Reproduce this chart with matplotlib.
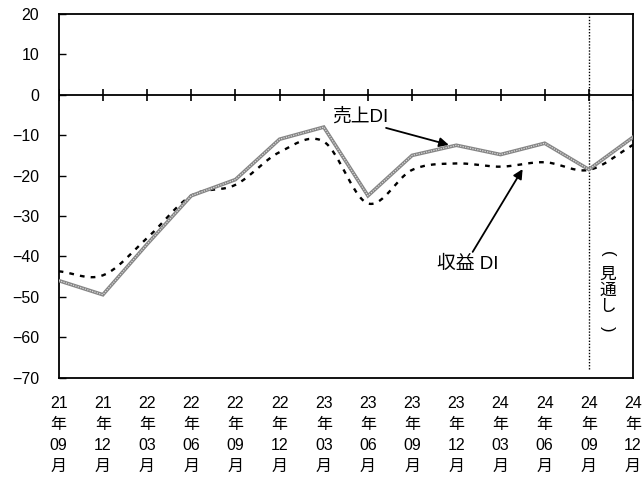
import numpy as np
import matplotlib
matplotlib.use("Agg")
import matplotlib.pyplot as plt

plt.rcParams['font.family'] = ['Liberation Sans', 'Noto Sans CJK JP', 'DejaVu Sans']

# 調査時点（年・月）
years = ["21", "21", "22", "22", "22", "22", "23", "23", "23", "23", "24", "24", "24", "24"]
months = ["09", "12", "03", "06", "09", "12", "03", "06", "09", "12", "03", "06", "09", "12"]

# 売上DI・収益DI
sales_di = [-46, -49.5, -37, -25, -21, -11, -8, -25, -15, -12.5, -14.8, -12, -18.5, -10.5]
profit_di = [-43.7, -44.7, -35.5, -25, -22.3, -14.2, -11.6, -26.9, -18.6, -17, -17.8, -16.7, -18.6, -12.4]

forecast_index = 12  # 24年09月以降は見通し

yticks = [20, 10, 0, -10, -20, -30, -40, -50, -60, -70]


def smooth_curve(y, steps=30):
    """Catmull-Rom spline through the points (Excel-style smoothed line)."""
    y = np.asarray(y, dtype=float)
    x = np.arange(len(y), dtype=float)
    px = np.concatenate([[2 * x[0] - x[1]], x, [2 * x[-1] - x[-2]]])
    py = np.concatenate([[2 * y[0] - y[1]], y, [2 * y[-1] - y[-2]]])
    xs, ys = [], []
    t = np.linspace(0, 1, steps, endpoint=False)

    def cr(a0, a1, a2, a3):
        return 0.5 * ((2 * a1) + (-a0 + a2) * t + (2 * a0 - 5 * a1 + 4 * a2 - a3) * t ** 2
                      + (-a0 + 3 * a1 - 3 * a2 + a3) * t ** 3)

    for i in range(1, len(px) - 2):
        xs.append(cr(px[i - 1], px[i], px[i + 1], px[i + 2]))
        ys.append(cr(py[i - 1], py[i], py[i + 1], py[i + 2]))
    xs.append([x[-1]])
    ys.append([y[-1]])
    return np.concatenate(xs), np.concatenate(ys)


fig = plt.figure(figsize=(6.44, 4.83), dpi=100)
ax = fig.add_axes([0.0911, 0.2184, 0.983 - 0.0911, 0.971 - 0.2184])

x = np.arange(len(sales_di))

# 収益DI（点線・スムージング）
sx, sy = smooth_curve(profit_di)
ax.plot(sx, sy, color="black", lw=1.7, linestyle=(0, (2.0, 2.6)), zorder=3)

# 売上DI（灰色の二重線）
ax.plot(x, sales_di, color="#858585", lw=2.6, solid_joinstyle="miter", zorder=4)
ax.plot(x, sales_di, color="#dcdcdc", lw=0.9, linestyle=(0, (1, 1)), zorder=5)

# 0 の横軸と目盛り
ax.axhline(0, color="black", lw=1.3, zorder=2)
ax.vlines(x, -1.5, 1.5, color="black", lw=1.2, zorder=2)

# 見通しの区切り線と縦書きラベル
ax.vlines(forecast_index, -68, 20, color="black", lw=1.0, linestyle=(0, (1, 1.2)), zorder=2)
tx = 12.43
ax.text(tx, -39.3, "(", rotation=-90, ha="center", va="center", fontsize=12)
ax.text(tx, -48.4, "見\n通\nし", ha="center", va="center", fontsize=12,
        linespacing=0.95, family="Noto Sans CJK JP")
ax.text(tx, -58.0, ")", rotation=-90, ha="center", va="center", fontsize=12)

ax.set_xlim(0, 13)
ax.set_ylim(-70, 20)
ax.set_yticks(yticks)
ax.set_yticklabels([str(v).replace("-", "\u2212") for v in yticks], fontsize=11.5)
ax.tick_params(axis="y", direction="in", length=5, width=1, pad=14)
ax.set_xticks(x)
ax.set_xticklabels([f"{yy}\n年\n{mm}\n月" for yy, mm in zip(years, months)],
                   fontsize=11.5, linespacing=1.52, va="top")
ax.tick_params(axis="x", length=0, pad=13)
for s in ax.spines.values():
    s.set_linewidth(1.3)

# 系列名と矢印
ax.annotate("", xy=(8.83, -12.4), xytext=(7.41, -8.2),
            arrowprops=dict(arrowstyle="-|>", color="black", lw=1.3, mutation_scale=14,
                            shrinkA=0, shrinkB=0), zorder=6)
ax.text(6.82, -5.4, "売上DI", ha="center", va="center", fontsize=13.5)
ax.annotate("", xy=(10.5, -18.4), xytext=(9.37, -38.9),
            arrowprops=dict(arrowstyle="-|>", color="black", lw=1.3, mutation_scale=14,
                            shrinkA=0, shrinkB=0), zorder=6)
ax.text(9.26, -42.0, "収益 DI", ha="center", va="center", fontsize=13.5)

fig.savefig("out.png", dpi=100)
